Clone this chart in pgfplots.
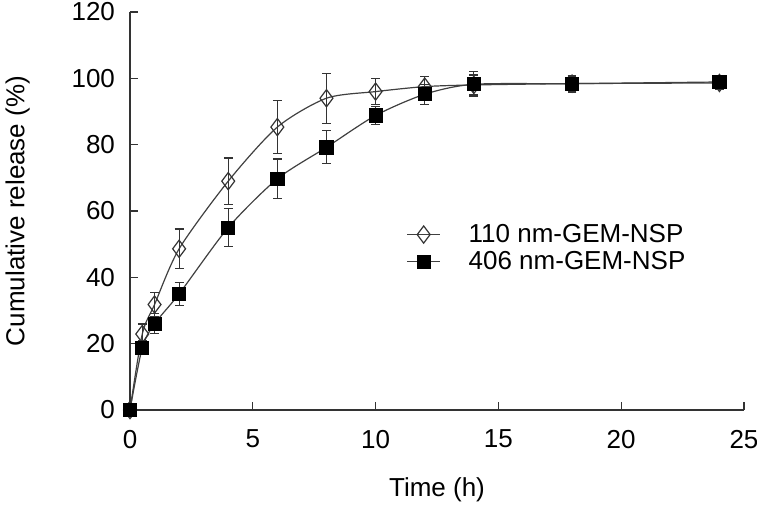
\documentclass[border=0pt]{standalone}
\usepackage{fontspec}
\setmainfont{Liberation Sans}
\usepackage{pgfplots}
\pgfplotsset{compat=1.18}
\begin{document}
\begin{tikzpicture}[font=\fontsize{13}{15.6}\selectfont]
\begin{axis}[name=ax,
  scale only axis, width=307pt, height=199pt,
  xmin=0, xmax=25, ymin=0, ymax=120,
  axis x line*=bottom, axis y line*=left,
  axis line style={line width=0.6pt, black!80},
  xtick={0,5,...,25}, ytick={0,20,...,120},
  tick align=inside, major tick length=4pt,
  tick style={line width=0.6pt, black!80},
  /pgf/number format/assume math mode=true,
  xticklabel style={yshift=-6.5pt},
  yticklabel style={xshift=-4pt},
  xlabel={Time (h)}, ylabel={Cumulative release (\%)},
  xlabel style={at={(axis description cs:0.5,0)}, anchor=center, yshift=-40pt},
  ylabel style={yshift=14pt},
  clip=false,
  legend style={draw=none, fill=none, at={(axis cs:11.0,48.8)}, anchor=west, row sep=-1pt, font=\fontsize{13}{15.6}\selectfont},
  legend cell align=left,
  legend image code/.code={\draw[mark repeat=2,mark phase=2,#1] plot coordinates {(0cm,0cm) (0.29cm,0cm) (0.58cm,0cm)}; \path (1.0cm,0cm);},
]
\addplot[smooth, tension=0.45, line width=0.6pt, black!75,
  mark=diamond, mark size=4.3pt, mark options={fill=white, draw=black!80, line width=0.6pt},
  error bars/.cd, y dir=both, y explicit, error mark options={rotate=90, mark size=2.2pt, line width=0.6pt, black!80},
  error bar style={line width=0.6pt, black!80}]
  coordinates {
  (0,0) +- (0,0)
  (0.5,22.9) +- (0,3)
  (1,31.8) +- (0,3.6)
  (2,48.6) +- (0,6)
  (4,69) +- (0,7)
  (6,85.3) +- (0,8)
  (8,94) +- (0,7.5)
  (10,96) +- (0,4)
  (12,97.5) +- (0,3)
  (14,98) +- (0,3)
  (18,98.4) +- (0,2.5)
  (24,98.6) +- (0,2)
  };
\addlegendentry{110 nm-GEM-NSP}
\addplot[smooth, tension=0.45, line width=0.6pt, black!75,
  mark=square*, mark size=3.3pt, mark options={fill=black, draw=black, line width=0.4pt},
  error bars/.cd, y dir=both, y explicit, error mark options={rotate=90, mark size=2.2pt, line width=0.6pt, black!80},
  error bar style={line width=0.6pt, black!80}]
  coordinates {
  (0,0) +- (0,0)
  (0.5,18.8) +- (0,2)
  (1,26) +- (0,3)
  (2,35) +- (0,3.4)
  (4,55) +- (0,5.8)
  (6,69.7) +- (0,6)
  (8,79.2) +- (0,5)
  (10,88.8) +- (0,2.8)
  (12,95.2) +- (0,3)
  (14,98.2) +- (0,3.8)
  (18,98.4) +- (0,2.2)
  (24,98.9) +- (0,2)
  };
\addlegendentry{406 nm-GEM-NSP}
\end{axis}
\pgfresetboundingbox
\path[use as bounding box] ([shift={(-65pt,-48.5pt)}]ax.south west) rectangle ([shift={(6.5pt,6pt)}]ax.north east);
\end{tikzpicture}
\end{document}
